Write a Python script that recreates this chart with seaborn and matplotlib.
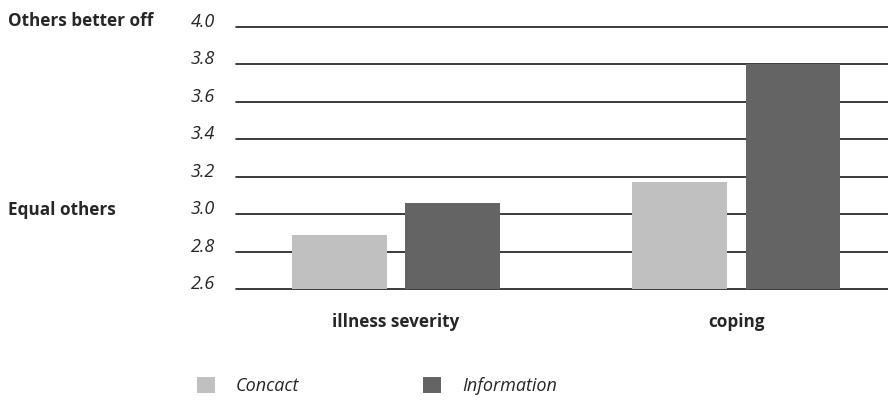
import matplotlib
matplotlib.use("Agg")
import matplotlib.pyplot as plt
import seaborn as sns
import pandas as pd
from matplotlib.patches import Patch

categories = ["illness severity", "coping"]
groups = ["Concact", "Information"]
concact_values = [2.89, 3.17]
information_values = [3.06, 3.80]
y_ticks = [2.6, 2.8, 3.0, 3.2, 3.4, 3.6, 3.8, 4.0]
y_tick_labels = ["2.6", "2.8", "3.0", "3.2", "3.4", "3.6", "3.8", "4.0"]
colors = ["#c0c0c0", "#646464"]

df = pd.DataFrame({
    "category": categories * 2,
    "group": [groups[0]] * 2 + [groups[1]] * 2,
    "value": concact_values + information_values,
})

sns.set_theme(style="white")
plt.rcParams["font.family"] = ["Open Sans", "DejaVu Sans"]
FS = 12.3

fig = plt.figure(figsize=(8.88, 4.04), dpi=100)
ax = fig.add_axes([236 / 888, 115 / 404, 652 / 888, 262 / 404])

sns.barplot(data=df, x="category", y="value", hue="group", order=categories,
            hue_order=groups, palette=colors, width=0.664, gap=0.16,
            saturation=1, ax=ax, legend=False, zorder=3, linewidth=0)

ax.set_ylim(2.6, 4.0)
ax.set_xlim(-0.47, 1.445)
ax.set_yticks(y_ticks)
ax.set_yticklabels(y_tick_labels)
ax.tick_params(axis="y", length=0, pad=15, labelsize=FS + 0.7)
ax.tick_params(axis="x", length=0, pad=17, labelsize=FS)
ax.set_xlabel("")
ax.set_ylabel("")
for s in ax.spines.values():
    s.set_visible(False)
ax.yaxis.grid(True, color="#1a1a1a", linewidth=1.2, zorder=0)
ax.set_axisbelow(True)

fig.text(8 / 888, 1 - 21 / 404, "Others better off", fontsize=FS,
         fontweight="bold", va="center", ha="left")
fig.text(8 / 888, 1 - 210 / 404, "Equal others", fontsize=FS,
         fontweight="bold", va="center", ha="left")

handles = [Patch(facecolor=c, edgecolor="none", label=g) for c, g in zip(colors, groups)]
leg = fig.legend(handles=handles, loc="center left",
                 bbox_to_anchor=(181 / 888, 1 - 386 / 404), ncol=2, frameon=False,
                 handlelength=1.0, handleheight=1.0, handletextpad=1.15,
                 columnspacing=6.85, prop={"size": FS + 0.7, "style": "italic"})

fig.canvas.draw()
for gl in ax.get_ygridlines():
    gl.set_clip_on(False)
for lab in ax.get_xticklabels():
    lab.set_fontweight("bold")
for lab in ax.get_yticklabels():
    lab.set_fontstyle("italic")
    lab.set_verticalalignment("baseline")

fig.savefig("out.png", dpi=100)
